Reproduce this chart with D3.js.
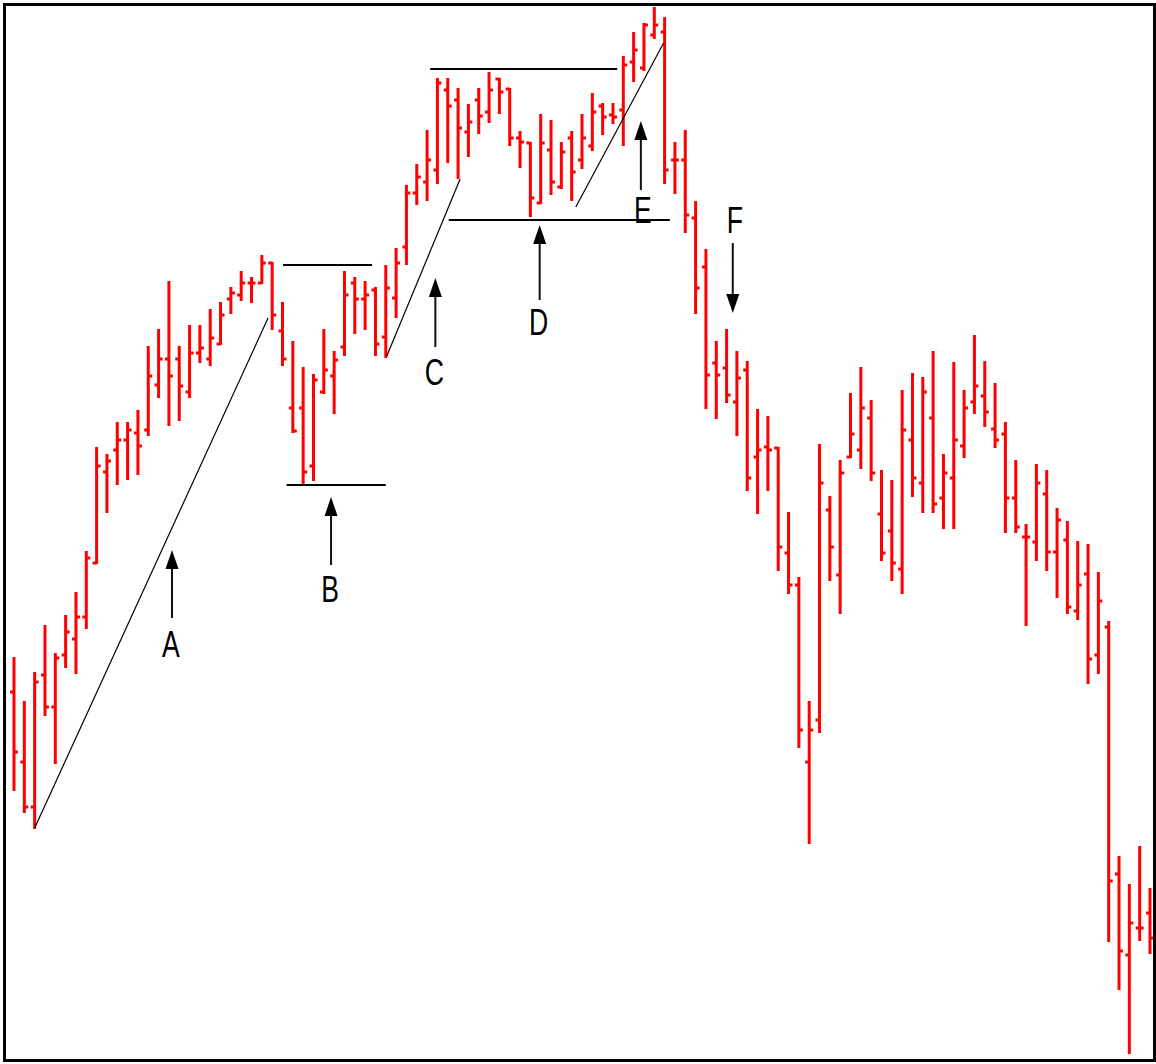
<!DOCTYPE html>
<html>
<head>
<meta charset="utf-8">
<script src="https://cdn.jsdelivr.net/npm/d3@7"></script>
<style>
  html, body { margin: 0; padding: 0; background: #fff; }
  svg { display: block; }
</style>
</head>
<body>
<div id="chart"></div>
<script>
// daily bars, values
const highs = [44.2, 39.8, 42.7, 47.4, 44.6, 48.4, 50.7, 54.8, 65.2, 64.5, 67.7, 67.7, 68.9, 75.3, 77.0, 81.8, 75.3, 77.4, 77.4, 79.0,
  79.7, 81.2, 82.8, 82.2, 84.4, 83.7, 79.7, 75.8, 73.2, 72.5, 77.0, 74.8, 82.8, 82.2, 81.8, 81.2, 83.4, 85.1, 91.4, 93.5,
  96.9, 102.1, 102.1, 101.1, 99.5, 101.1, 102.7, 102.1, 101.1, 96.8, 95.7, 98.5, 97.9, 95.7, 96.8, 98.5, 100.6, 99.6, 99.6, 104.3,
  106.7, 107.6, 109.2, 108.2, 95.7, 96.9, 89.8, 85.0, 75.8, 77.0, 74.8, 73.8, 69.0, 68.3, 65.2, 58.7, 52.2, 39.8, 65.5, 60.3,
  63.9, 70.6, 73.2, 69.9, 62.9, 61.9, 70.9, 72.6, 72.2, 74.8, 64.5, 73.7, 70.9, 76.4, 73.8, 71.6, 67.7, 63.9, 57.5, 63.5,
  62.9, 59.1, 57.8, 55.8, 55.5, 52.7, 47.8, 24.3, 21.5, 25.3, 21.1];
const lows = [31.0, 28.8, 27.2, 38.5, 33.7, 43.3, 42.7, 47.2, 53.7, 58.8, 61.6, 62.1, 62.6, 66.5, 70.3, 67.5, 68.0, 70.3, 73.8, 73.5,
  75.6, 78.7, 80.0, 79.8, 81.7, 77.1, 73.5, 66.8, 61.5, 62.0, 70.7, 68.7, 74.5, 76.7, 77.1, 74.5, 74.3, 78.3, 83.6, 89.6,
  90.0, 91.7, 93.8, 92.2, 94.4, 96.7, 97.8, 98.7, 95.5, 93.3, 88.4, 89.7, 90.6, 91.2, 90.0, 93.2, 95.0, 96.6, 97.7, 95.5,
  101.9, 103.0, 106.2, 91.7, 90.7, 86.8, 78.7, 69.2, 68.2, 69.8, 66.5, 61.0, 58.7, 61.0, 53.0, 50.7, 35.3, 25.7, 36.8, 52.0,
  48.7, 64.3, 63.2, 62.0, 54.0, 52.0, 50.7, 60.4, 58.8, 58.8, 57.2, 57.2, 64.3, 68.7, 67.4, 65.3, 56.8, 56.8, 47.5, 54.0,
  53.0, 50.3, 48.7, 48.1, 41.7, 42.7, 15.9, 11.1, 4.7, 16.0, 14.7];
const opens = [40.8, 33.8, 29.3, 42.5, 39.3, 44.5, 46.1, 48.3, 53.7, 62.8, 65.0, 66.0, 66.7, 67.0, 71.5, 74.1, 74.1, 70.8, 74.7, 74.1,
  75.6, 80.1, 80.5, 81.7, 81.7, 83.7, 76.9, 69.2, 69.2, 63.4, 70.8, 72.4, 75.3, 81.7, 80.1, 81.0, 76.3, 80.2, 85.3, 90.7,
  91.8, 93.0, 101.0, 100.0, 96.8, 100.0, 98.8, 102.1, 101.1, 96.2, 95.7, 89.7, 95.0, 91.3, 96.2, 94.0, 95.4, 99.4, 98.5, 99.0,
  103.8, 103.2, 106.5, 106.8, 94.0, 94.0, 88.2, 83.3, 73.7, 73.2, 69.8, 73.0, 64.3, 65.3, 65.2, 54.7, 51.5, 33.8, 38.0, 59.0,
  52.5, 64.3, 65.0, 68.2, 58.6, 56.9, 53.1, 66.0, 61.7, 68.2, 60.2, 62.2, 65.4, 69.8, 70.4, 67.1, 66.6, 60.2, 56.3, 55.8,
  60.6, 54.8, 56.0, 48.9, 52.6, 44.5, 47.3, 22.6, 14.5, 17.2, 18.7];
const closes = [34.8, 29.3, 41.8, 39.3, 44.2, 46.8, 48.3, 54.2, 63.4, 63.9, 66.0, 67.0, 65.4, 72.4, 74.1, 72.4, 71.4, 74.7, 75.2, 76.2,
  78.5, 80.7, 81.7, 81.7, 83.7, 78.5, 74.1, 66.9, 62.8, 72.0, 73.0, 74.0, 80.5, 80.1, 80.5, 75.6, 81.2, 83.7, 90.7, 92.3,
  94.0, 101.7, 99.4, 97.2, 97.8, 98.4, 101.0, 100.8, 96.2, 95.8, 90.2, 95.7, 91.8, 94.8, 92.8, 96.2, 98.8, 98.3, 98.3, 103.5,
  105.0, 107.5, 107.5, 93.0, 94.0, 88.5, 81.2, 72.5, 72.5, 70.5, 72.2, 62.2, 65.0, 65.0, 55.3, 51.5, 37.0, 37.0, 61.7, 55.3,
  62.7, 66.6, 69.2, 62.7, 54.7, 53.7, 67.0, 62.2, 70.8, 59.6, 62.7, 66.0, 69.2, 71.4, 68.8, 66.0, 60.2, 57.3, 56.3, 61.7,
  54.8, 58.0, 49.3, 51.5, 44.1, 49.9, 21.9, 14.9, 17.7, 17.2, 16.2];

// drawn lines: [startIndex, startPrice, endIndex, endPrice]
const trendLines = [
  [2.0, 27.2, 24.6, 78.2],
  [36.1, 74.4, 43.2, 92.1],
  [54.4, 89.3, 62.9, 105.7]
];
const levelLines = [
  [26.05, 83.5, 34.67, 83.5],
  [26.4, 61.5, 36.0, 61.5],
  [40.3, 103.1, 58.4, 103.1],
  [42.1, 88.0, 63.5, 88.0]
];
// arrows: label, index, tip price, tail price, label baseline price
const arrowLabels = ['A', 'B', 'C', 'D', 'E', 'F'];
const arrowIndex = [15.3, 30.7, 40.8, 50.9, 60.7, 69.6];
const arrowTip = [55.0, 60.3, 82.2, 87.5, 97.9, 78.7];
const arrowTail = [48.2, 53.5, 75.3, 80.0, 91.0, 85.7];
const labelBase = [44.3, 49.8, 71.5, 76.5, 87.7, 86.7];

const width = 1156, height = 1064;

const svg = d3.select('#chart').append('svg')
  .attr('width', width)
  .attr('height', height);

const x = d3.scaleLinear().domain([0, highs.length - 1]).range([14, 1150]);
const y = d3.scaleLinear().domain([0, 110]).range([1100, 0]);

const bars = svg.append('g')
  .selectAll('g')
  .data(d3.range(highs.length))
  .join('g')
  .attr('stroke', '#ff0000')
  .attr('stroke-width', 3);

bars.append('line')
  .attr('x1', i => x(i)).attr('x2', i => x(i))
  .attr('y1', i => y(highs[i]) - 1).attr('y2', i => y(lows[i]) + 1);
bars.append('line')
  .attr('x1', i => x(i) - 4).attr('x2', i => x(i))
  .attr('y1', i => y(opens[i])).attr('y2', i => y(opens[i]));
bars.append('line')
  .attr('x1', i => x(i)).attr('x2', i => x(i) + 4)
  .attr('y1', i => y(closes[i])).attr('y2', i => y(closes[i]));

// trend lines are thin, level lines a bit heavier
svg.append('g').selectAll('line')
  .data(trendLines)
  .join('line')
  .attr('x1', d => x(d[0])).attr('y1', d => y(d[1]))
  .attr('x2', d => x(d[2])).attr('y2', d => y(d[3]))
  .attr('stroke', '#000')
  .attr('stroke-width', 1.2);

svg.append('g').selectAll('line')
  .data(levelLines)
  .join('line')
  .attr('x1', d => x(d[0])).attr('y1', d => y(d[1]))
  .attr('x2', d => x(d[2])).attr('y2', d => y(d[3]))
  .attr('stroke', '#000')
  .attr('stroke-width', 2);

const arrows = svg.append('g')
  .selectAll('g')
  .data(arrowLabels.map((label, i) => ({label, i})))
  .join('g');

arrows.append('line')
  .attr('x1', d => x(arrowIndex[d.i])).attr('x2', d => x(arrowIndex[d.i]))
  .attr('y1', d => y(arrowTail[d.i]))
  .attr('y2', d => {
    const dir = arrowTip[d.i] > arrowTail[d.i] ? 1 : -1;
    return y(arrowTip[d.i]) + dir * 16;
  })
  .attr('stroke', '#111')
  .attr('stroke-width', 2);

arrows.append('path')
  .attr('d', d => {
    const cx = x(arrowIndex[d.i]);
    const ty = y(arrowTip[d.i]);
    const dir = arrowTip[d.i] > arrowTail[d.i] ? 1 : -1;
    const by = ty + dir * 19;
    return `M${cx},${ty}L${cx - 6.5},${by}L${cx + 6.5},${by}Z`;
  })
  .attr('fill', '#000');

arrows.append('text')
  .attr('transform', d => {
    const dx = d.label === 'E' ? 2 : (d.label === 'F' ? 2 : -1);
    return `translate(${x(arrowIndex[d.i]) + dx},${y(labelBase[d.i])}) scale(0.72,1)`;
  })
  .attr('text-anchor', 'middle')
  .attr('font-family', 'Liberation Sans, Arial, sans-serif')
  .attr('font-size', 37)
  .attr('fill', '#000')
  .text(d => d.label);

// frame
svg.append('rect')
  .attr('x', 4.5).attr('y', 4.5)
  .attr('width', 1150).attr('height', 1056)
  .attr('fill', 'none')
  .attr('stroke', '#000')
  .attr('stroke-width', 3);
</script>
</body>
</html>
